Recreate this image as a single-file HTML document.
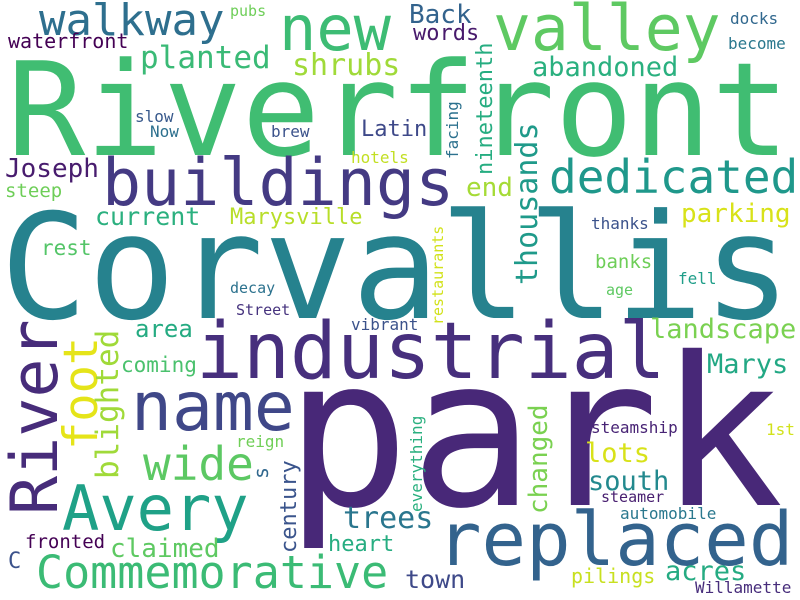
<!DOCTYPE html>
<html>
<head>
<meta charset="utf-8">
<style>
  html,body{margin:0;padding:0;background:#fff;}
  svg{display:block;}
  text{font-family:"DejaVu Sans Mono","Liberation Mono",monospace;}
</style>
</head>
<body>
<svg id="cloud" width="800" height="600" viewBox="0 0 800 600" xmlns="http://www.w3.org/2000/svg">
  <rect width="800" height="600" fill="#ffffff"/>
</svg>
<script>
// word, x (baseline start), y (baseline), font size, color, rotated
const words = [
  ["Riverfront",7,155,130,"#40bd72",0],
  ["Corvallis",0,318,146,"#26828e",0],
  ["park",285,505,207,"#482878",0],
  ["industrial",196,378,78,"#472f7d",0],
  ["buildings",102,205,65,"#443a83",0],
  ["replaced",437,565,74,"#33638d",0],
  ["name",131,430,68,"#3f4788",0],
  ["new",279,50,62,"#3dbc74",0],
  ["valley",493,50,63,"#5ec962",0],
  ["walkway",39,35,44,"#2e6f8e",0],
  ["dedicated",549,193,46,"#1f988b",0],
  ["Avery",62,530,62,"#1fa187",0],
  ["Commemorative",36,588,45,"#3bbb75",0],
  ["wide",143,480,46,"#5cc863",0],
  ["planted",140,68,31,"#3aba76",0],
  ["shrubs",292,75,30,"#a0da39",0],
  ["abandoned",532,76,27,"#2ab07f",0],
  ["Back",409,23,26,"#33638d",0],
  ["words",413,40,22,"#481a6c",0],
  ["waterfront",8,48,20,"#440154",0],
  ["pubs",230,16,15,"#6ece58",0],
  ["docks",730,24,16,"#31688e",0],
  ["become",728,49,16,"#2a788e",0],
  ["Latin",361,136,22,"#3e4989",0],
  ["slow",135,122,16,"#38598c",0],
  ["Now",150,137,16,"#2d708e",0],
  ["brew",271,137,16,"#3b528b",0],
  ["Joseph",5,177,26,"#481c6e",0],
  ["steep",5,197,19,"#6ece58",0],
  ["hotels",351,163,16,"#c2df23",0],
  ["end",466,196,26,"#a5db36",0],
  ["current",95,225,25,"#2bb07f",0],
  ["Marysville",230,224,22,"#b8de29",0],
  ["parking",681,222,26,"#d8e219",0],
  ["thanks",591,229,16,"#3b528b",0],
  ["rest",41,255,21,"#54c568",0],
  ["banks",595,268,19,"#6ece58",0],
  ["decay",230,293,15,"#2c728e",0],
  ["fell",678,284,16,"#1f9e89",0],
  ["age",606,295,15,"#5ec962",0],
  ["Street",236,315,15,"#46337e",0],
  ["landscape",650,338,27,"#7ad151",0],
  ["area",135,337,24,"#25ab82",0],
  ["vibrant",351,330,16,"#3b528b",0],
  ["coming",121,372,21,"#4ac16d",0],
  ["Marys",707,373,27,"#22a884",0],
  ["reign",236,447,16,"#70cf57",0],
  ["steamship",591,433,16,"#482475",0],
  ["1st",766,435,16,"#d2e21b",0],
  ["lots",585,462,27,"#d8e219",0],
  ["south",588,490,27,"#23898e",0],
  ["steamer",601,502,15,"#481f70",0],
  ["trees",343,528,30,"#2a768e",0],
  ["automobile",620,519,16,"#2a788e",0],
  ["heart",328,551,22,"#27ad81",0],
  ["fronted",25,548,19,"#440154",0],
  ["claimed",110,557,26,"#5ec962",0],
  ["C",8,568,22,"#3b528b",0],
  ["town",405,588,25,"#3e4989",0],
  ["pilings",571,583,20,"#c8e020",0],
  ["acres",665,580,27,"#25ab82",0],
  ["Willamette",695,593,16,"#472d7b",0],
  ["River",57,515,65,"#472c7a",1],
  ["foot",97,450,47,"#e5e419",1],
  ["blighted",118,479,31,"#a0da39",1],
  ["century",296,553,22,"#3a548c",1],
  ["everything",422,512,16,"#2ab07f",1],
  ["s",268,479,20,"#31688e",1],
  ["nineteenth",492,175,22,"#26ad81",1],
  ["facing",458,159,16,"#2c718e",1],
  ["thousands",537,285,30,"#1f9a8a",1],
  ["restaurants",443,325,15,"#d2e21b",1],
  ["changed",547,514,26,"#7ad151",1]
];
const svg = document.getElementById('cloud');
const NS = 'http://www.w3.org/2000/svg';
for (const w of words) {
  const t = document.createElementNS(NS, 'text');
  t.textContent = w[0];
  t.setAttribute('font-size', w[3]);
  t.setAttribute('fill', w[4]);
  if (w[5]) {
    t.setAttribute('x', 0);
    t.setAttribute('y', 0);
    t.setAttribute('transform', 'translate(' + w[1] + ',' + w[2] + ') rotate(-90)');
  } else {
    t.setAttribute('x', w[1]);
    t.setAttribute('y', w[2]);
  }
  
  
  svg.appendChild(t);
}
</script>
</body>
</html>
